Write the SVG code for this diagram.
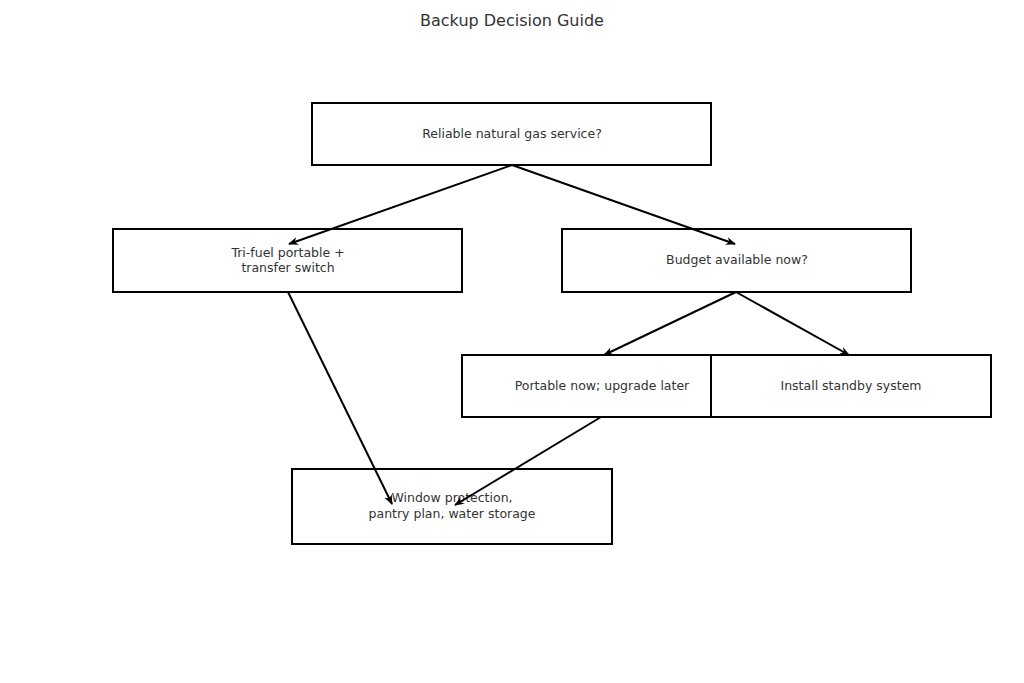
<svg xmlns="http://www.w3.org/2000/svg" width="1024" height="683" viewBox="0 0 1024 683">
<style>
.n{fill:#fff;stroke:#000;stroke-width:2}
.t{font-family:"DejaVu Sans",sans-serif;font-size:12.5px;fill:#333;text-anchor:middle}
.c{stroke:#000;stroke-width:2;fill:none;marker-end:url(#a)}
</style>
<defs><marker id="a" viewBox="0 0 10 10" refX="9" refY="5" markerWidth="5" markerHeight="5" orient="auto" markerUnits="strokeWidth"><path d="M0,1 L10,5 L0,9 L3,5 z" fill="#000"/></marker></defs>
<rect width="1024" height="683" fill="#fff"/>
<text x="512" y="26" class="t" style="font-size:16px">Backup Decision Guide</text>
<g id="n1"><rect class="n" x="312" y="103" width="399" height="62"/><text class="t" x="512" y="138">Reliable natural gas service?</text></g>
<g id="n2"><rect class="n" x="113" y="229" width="349" height="63"/><text class="t" x="288" y="257">Tri-fuel portable +</text><text class="t" x="288" y="272">transfer switch</text></g>
<g id="n3"><rect class="n" x="562" y="229" width="349" height="63"/><text class="t" x="737" y="264">Budget available now?</text></g>
<g id="n4"><rect class="n" x="462" y="355" width="279" height="62"/><text class="t" x="602" y="390">Portable now; upgrade later</text></g>
<g id="n5"><rect class="n" x="711" y="355" width="280" height="62"/><text class="t" x="851" y="390">Install standby system</text></g>
<g id="n6"><rect class="n" x="292" y="469" width="320" height="75"/><text class="t" x="452" y="502">Window protection,</text><text class="t" x="452" y="518">pantry plan, water storage</text></g>
<g id="connectors">
<line class="c" x1="512" y1="165" x2="289" y2="244"/>
<line class="c" x1="512" y1="165" x2="735" y2="244"/>
<line class="c" x1="736" y1="292" x2="604" y2="355"/>
<line class="c" x1="736" y1="292" x2="849" y2="355"/>
<line class="c" x1="288" y1="292" x2="392" y2="504"/>
<line class="c" x1="601" y1="417" x2="455" y2="505"/>
</g>
</svg>
